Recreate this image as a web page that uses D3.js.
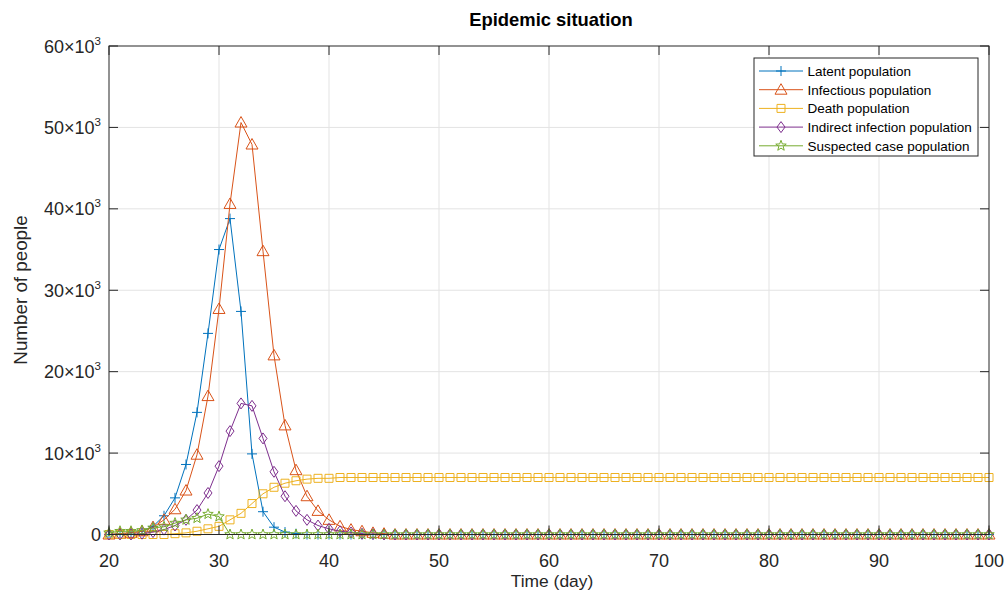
<!DOCTYPE html>
<html>
<head>
<meta charset="utf-8">
<script src="https://cdn.jsdelivr.net/npm/d3@7"></script>
<style>
  body { margin: 0; background: #fff; }
  svg { font-family: 'Liberation Sans', Arial, sans-serif; }
</style>
</head>
<body>
<div id="chart"><svg></svg></div>
<script>
// days 20..100
const days = d3.range(20, 101)

const latent = [
  0, 100, 200, 400, 1000, 2300, 4500, 8600, 15000, 24700,
  35000, 38800, 27400, 9900, 2800, 900, 300, 100, 0, 0,
  0, 0, 0, 0, 0, 0, 0, 0, 0, 0,
  0, 0, 0, 0, 0, 0, 0, 0, 0, 0,
  0, 0, 0, 0, 0, 0, 0, 0, 0, 0,
  0, 0, 0, 0, 0, 0, 0, 0, 0, 0,
  0, 0, 0, 0, 0, 0, 0, 0, 0, 0,
  0, 0, 0, 0, 0, 0, 0, 0, 0, 0,
  0
]
const infectious = [
  0, 100, 200, 400, 900, 1800, 3100, 5400, 9800, 17000,
  27700, 40600, 50600, 47900, 34800, 22000, 13400, 7900, 4700, 2900,
  1800, 1000, 600, 400, 200, 100, 0, 0, 0, 0,
  0, 0, 0, 0, 0, 0, 0, 0, 0, 0,
  0, 0, 0, 0, 0, 0, 0, 0, 0, 0,
  0, 0, 0, 0, 0, 0, 0, 0, 0, 0,
  0, 0, 0, 0, 0, 0, 0, 0, 0, 0,
  0, 0, 0, 0, 0, 0, 0, 0, 0, 0,
  0
]
const death = [
  0, 0, 0, 0, 0, 0, 100, 200, 400, 700,
  1000, 1800, 2600, 3800, 5000, 5800, 6300, 6600, 6800, 6900,
  6900, 7000, 7000, 7000, 7000, 7000, 7000, 7000, 7000, 7000,
  7000, 7000, 7000, 7000, 7000, 7000, 7000, 7000, 7000, 7000,
  7000, 7000, 7000, 7000, 7000, 7000, 7000, 7000, 7000, 7000,
  7000, 7000, 7000, 7000, 7000, 7000, 7000, 7000, 7000, 7000,
  7000, 7000, 7000, 7000, 7000, 7000, 7000, 7000, 7000, 7000,
  7000, 7000, 7000, 7000, 7000, 7000, 7000, 7000, 7000, 7000,
  7000
]
const indirect = [
  0, 0, 0, 100, 300, 600, 1100, 1800, 3000, 5100,
  8400, 12700, 16100, 15800, 11800, 7700, 4700, 2900, 1800, 1100,
  700, 400, 250, 100, 50, 0, 0, 0, 0, 0,
  0, 0, 0, 0, 0, 0, 0, 0, 0, 0,
  0, 0, 0, 0, 0, 0, 0, 0, 0, 0,
  0, 0, 0, 0, 0, 0, 0, 0, 0, 0,
  0, 0, 0, 0, 0, 0, 0, 0, 0, 0,
  0, 0, 0, 0, 0, 0, 0, 0, 0, 0,
  0
]
const suspected = [
  200, 400, 400, 500, 800, 950, 1400, 1800, 2000, 2500,
  2200, 0, 0, 0, 0, 0, 0, 0, 0, 0,
  0, 0, 0, 0, 0, 0, 0, 0, 0, 0,
  0, 0, 0, 0, 0, 0, 0, 0, 0, 0,
  0, 0, 0, 0, 0, 0, 0, 0, 0, 0,
  0, 0, 0, 0, 0, 0, 0, 0, 0, 0,
  0, 0, 0, 0, 0, 0, 0, 0, 0, 0,
  0, 0, 0, 0, 0, 0, 0, 0, 0, 0,
  0
]

const seriesNames = ['Latent population', 'Infectious population', 'Death population',
  'Indirect infection population', 'Suspected case population']
const seriesValues = [latent, infectious, death, indirect, suspected]
const colors = ['#0072BD', '#D95319', '#EDB120', '#7E2F8E', '#77AC30']
const markers = ['plus', 'triangle', 'square', 'diamond', 'star']

const xTicks = [20, 30, 40, 50, 60, 70, 80, 90, 100]
const yTicks = [0, 10000, 20000, 30000, 40000, 50000, 60000]

const width = 1005
const height = 592
const plot = { left: 109, right: 989, top: 46, bottom: 534.5 }

const svg = d3.select('#chart').select('svg')
  .attr('width', width)
  .attr('height', height)

const xScale = d3.scaleLinear().domain([20, 100]).range([plot.left, plot.right])
const yScale = d3.scaleLinear().domain([0, 60000]).range([plot.bottom, plot.top])

/**
 * Path string for a marker, centered on 0,0.
 *
 * @param {string} type The marker name
 * @returns {string} The svg path
 */
function markerPath (type) {
  switch (type) {
    case 'plus':
      return 'M-5,0H5M0,-5V5'
    case 'triangle':
      return 'M0,-6L6,4.5L-6,4.5Z'
    case 'square':
      return 'M-4,-4H4V4H-4Z'
    case 'diamond':
      return 'M0,-5.5L4,0L0,5.5L-4,0Z'
    default: {
      const pts = []
      for (let i = 0; i < 10; i++) {
        const r = i % 2 === 0 ? 5.5 : 2.3
        const a = -Math.PI / 2 + i * Math.PI / 5
        pts.push([r * Math.cos(a), r * Math.sin(a)])
      }
      return 'M' + pts.map(p => p[0].toFixed(2) + ',' + p[1].toFixed(2)).join('L') + 'Z'
    }
  }
}

// grid
const grid = svg.append('g').attr('class', 'grid')
grid.selectAll('.gx').data(xTicks.slice(1, -1)).enter().append('line')
  .attr('x1', d => xScale(d)).attr('x2', d => xScale(d))
  .attr('y1', plot.top).attr('y2', plot.bottom)
  .attr('stroke', '#e3e3e3').attr('stroke-width', 1)
grid.selectAll('.gy').data(yTicks.slice(1, -1)).enter().append('line')
  .attr('y1', d => yScale(d)).attr('y2', d => yScale(d))
  .attr('x1', plot.left).attr('x2', plot.right)
  .attr('stroke', '#e3e3e3').attr('stroke-width', 1)

// series
const line = d3.line().x((d, i) => xScale(days[i])).y(d => yScale(d))
const seriesG = svg.append('g').attr('class', 'series')
seriesValues.forEach((vals, k) => {
  const g = seriesG.append('g')
  g.append('path')
    .attr('d', line(vals))
    .attr('fill', 'none')
    .attr('stroke', colors[k])
    .attr('stroke-width', 1)
  g.selectAll('path.mk').data(vals).enter().append('path')
    .attr('class', 'mk')
    .attr('transform', (d, i) => 'translate(' + xScale(days[i]) + ',' + yScale(d) + ')')
    .attr('d', markerPath(markers[k]))
    .attr('fill', 'none')
    .attr('stroke', colors[k])
    .attr('stroke-width', 1)
})

// axes box and inward ticks
const axisColor = '#262626'
const axes = svg.append('g').attr('class', 'axes')
axes.append('rect')
  .attr('x', plot.left).attr('y', plot.top)
  .attr('width', plot.right - plot.left).attr('height', plot.bottom - plot.top)
  .attr('fill', 'none').attr('stroke', axisColor).attr('stroke-width', 1)

const tickLen = 9
xTicks.forEach(t => {
  axes.append('line').attr('x1', xScale(t)).attr('x2', xScale(t))
    .attr('y1', plot.bottom).attr('y2', plot.bottom - tickLen)
    .attr('stroke', axisColor)
  axes.append('line').attr('x1', xScale(t)).attr('x2', xScale(t))
    .attr('y1', plot.top).attr('y2', plot.top + tickLen)
    .attr('stroke', axisColor)
  axes.append('text')
    .attr('x', xScale(t)).attr('y', 567)
    .attr('text-anchor', 'middle')
    .attr('font-size', 18)
    .attr('fill', axisColor)
    .text(t)
})
yTicks.forEach(t => {
  axes.append('line').attr('x1', plot.left).attr('x2', plot.left + tickLen)
    .attr('y1', yScale(t)).attr('y2', yScale(t))
    .attr('stroke', axisColor)
  axes.append('line').attr('x1', plot.right).attr('x2', plot.right - tickLen)
    .attr('y1', yScale(t)).attr('y2', yScale(t))
    .attr('stroke', axisColor)
  const label = axes.append('text')
    .attr('x', plot.left - 8).attr('y', yScale(t) + 6.5)
    .attr('text-anchor', 'end')
    .attr('font-size', 18)
    .attr('fill', axisColor)
  if (t === 0) {
    label.text('0')
  } else {
    label.append('tspan').text((t / 1000) + '×10')
    label.append('tspan').attr('dy', -8).attr('font-size', 11.5).text('3')
  }
})

// labels
svg.append('text')
  .attr('x', 551).attr('y', 26)
  .attr('text-anchor', 'middle')
  .attr('font-size', 18.4).attr('font-weight', 'bold')
  .attr('fill', '#000')
  .text('Epidemic situation')

svg.append('text')
  .attr('x', 552).attr('y', 587)
  .attr('text-anchor', 'middle')
  .attr('font-size', 17.4)
  .attr('fill', axisColor)
  .text('Time (day)')

svg.append('text')
  .attr('transform', 'translate(27,' + 290 + ') rotate(-90)')
  .attr('text-anchor', 'middle')
  .attr('font-size', 18.8)
  .attr('fill', axisColor)
  .text('Number of people')

// legend
const legend = svg.append('g').attr('class', 'legend')
legend.append('rect')
  .attr('x', 754).attr('y', 58)
  .attr('width', 224).attr('height', 98)
  .attr('fill', '#fff').attr('stroke', axisColor).attr('stroke-width', 1)
seriesNames.forEach((name, k) => {
  const y = 71 + k * 18.7
  legend.append('line')
    .attr('x1', 759).attr('x2', 803).attr('y1', y).attr('y2', y)
    .attr('stroke', colors[k])
  legend.append('path')
    .attr('transform', 'translate(781,' + y + ')')
    .attr('d', markerPath(markers[k]))
    .attr('fill', 'none').attr('stroke', colors[k])
  legend.append('text')
    .attr('x', 807.5).attr('y', y + 4.8)
    .attr('font-size', 13.5)
    .attr('fill', '#000')
    .text(name)
})
</script>
</body>
</html>
